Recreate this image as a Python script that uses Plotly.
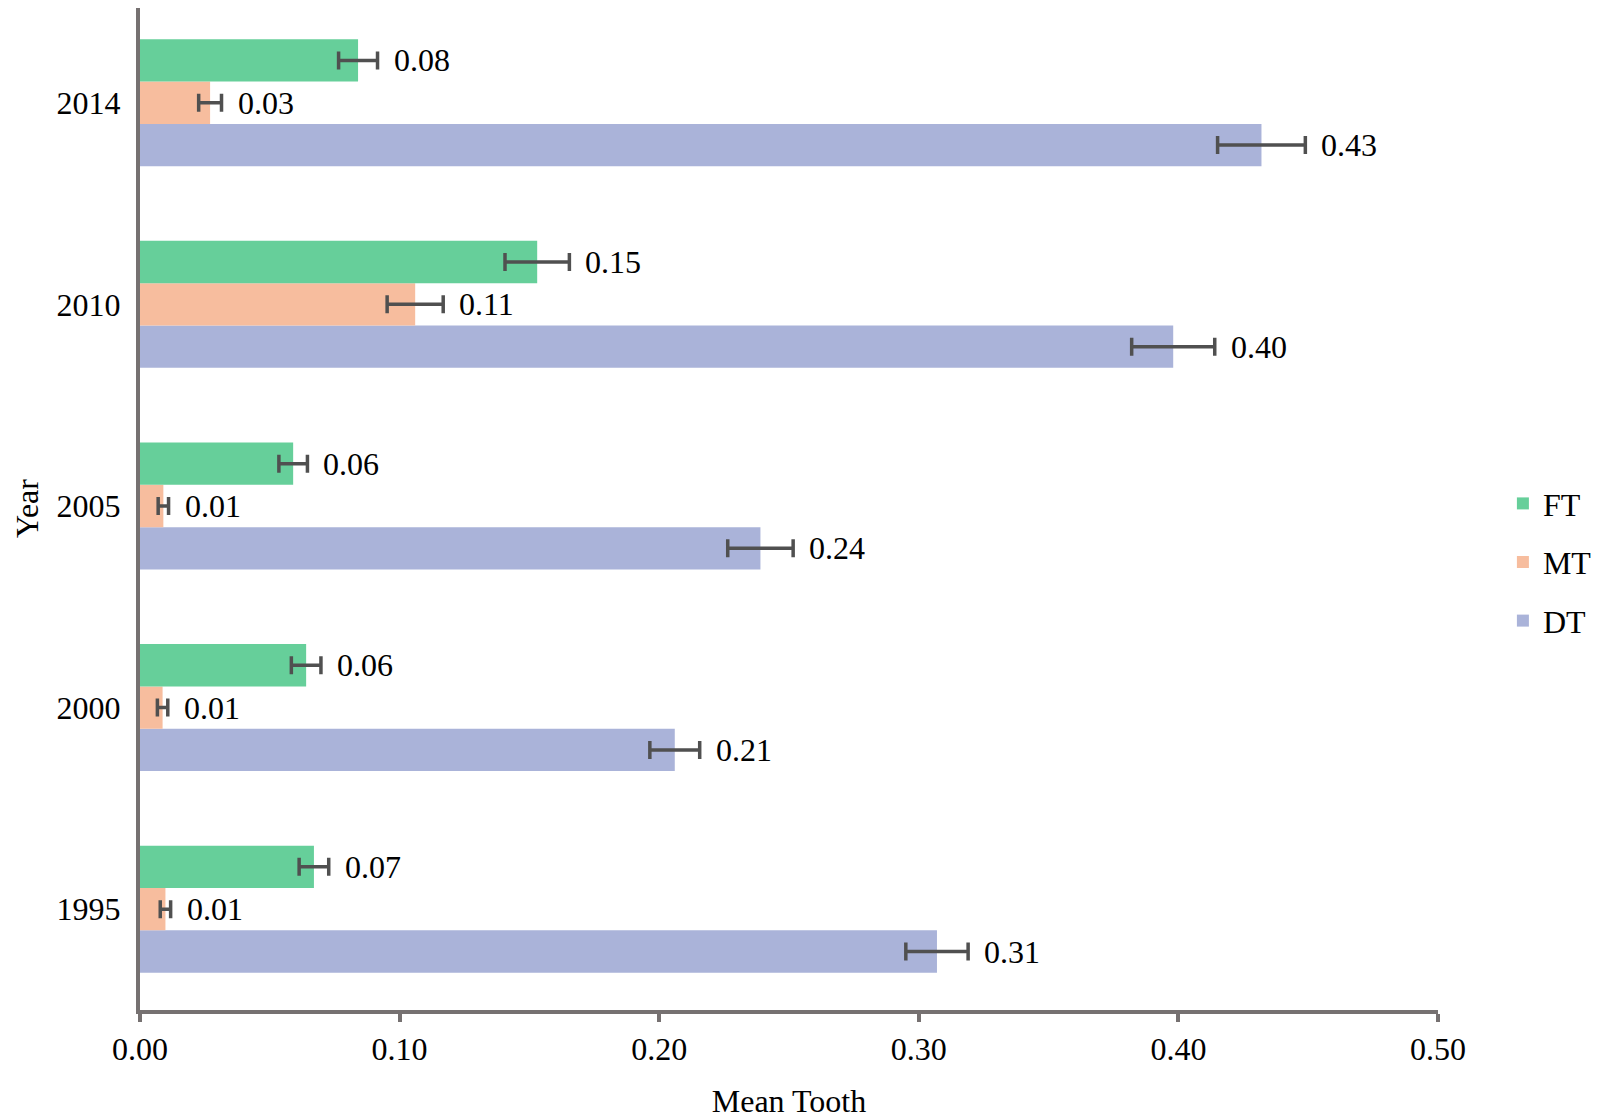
import plotly.graph_objects as go

years = ["1995", "2000", "2005", "2010", "2014"]
series = ["DT", "MT", "FT"]
ft = [0.067, 0.064, 0.059, 0.153, 0.084]
ft_err = [0.0057, 0.0057, 0.0055, 0.0124, 0.0075]
mt = [0.0098, 0.0087, 0.009, 0.106, 0.027]
mt_err = [0.002, 0.002, 0.002, 0.0108, 0.0044]
dt = [0.307, 0.206, 0.239, 0.398, 0.432]
dt_err = [0.012, 0.0096, 0.0126, 0.016, 0.0169]
x_ticks = [0.0, 0.1, 0.2, 0.3, 0.4, 0.5]
x_ticklabels = ["0.00", "0.10", "0.20", "0.30", "0.40", "0.50"]

values = {"FT": ft, "MT": mt, "DT": dt}
errors = {"FT": ft_err, "MT": mt_err, "DT": dt_err}
colors = {"FT": "#66CF9A", "MT": "#F7BD9E", "DT": "#AAB3D9"}
legend_rank = {"FT": 1, "MT": 2, "DT": 3}

FONT = "Liberation Serif, Times New Roman, serif"
FS = 32
AXIS_COLOR = "#767171"

W, H = 1600, 1120
m_l, m_r, m_t, m_b = 132, 170, 0, 118
y_range = [-0.5, 4.47]
bargap = 0.37
band_px = (H - m_t - m_b) / (y_range[1] - y_range[0])
bar_px = band_px * (1 - bargap) / 3
shifts = {"DT": -bar_px, "MT": 0, "FT": bar_px}

fig = go.Figure()
for s in series:
    fig.add_trace(go.Bar(
        name=s, y=years, x=values[s], orientation="h",
        marker=dict(color=colors[s], line=dict(width=0)),
        error_x=dict(type="data", array=errors[s], visible=True,
                     color="#505050", thickness=3.5, width=9),
        legendrank=legend_rank[s], legendgroup=s,
    ))

annotations = []
for s in series:
    for i, (v, e) in enumerate(zip(values[s], errors[s])):
        annotations.append(dict(
            x=v + e, y=i, xref="x", yref="y", text=f"{v:.2f}",
            showarrow=False, xanchor="left", yanchor="middle",
            xshift=14, yshift=shifts[s],
            font=dict(family=FONT, size=FS, color="black"),
        ))

# y-axis title placed near the left edge of the figure
annotations.append(dict(
    text="Year", x=0, y=0.5, xref="paper", yref="paper",
    xanchor="center", yanchor="middle", textangle=-90,
    xshift=-(m_l - 19), showarrow=False,
    font=dict(family=FONT, size=FS, color="black"),
))

fig.update_layout(
    width=W, height=H,
    margin=dict(l=m_l, r=m_r, t=m_t, b=m_b, autoexpand=False),
    paper_bgcolor="white", plot_bgcolor="white",
    barmode="group", bargap=bargap, bargroupgap=0,
    font=dict(family=FONT, size=FS, color="black"),
    annotations=annotations,
    legend=dict(
        x=1.050, xanchor="left", y=0.447, yanchor="middle",
        traceorder="grouped", tracegroupgap=14,
        font=dict(family=FONT, size=FS, color="black"),
        bgcolor="rgba(0,0,0,0)", itemwidth=30,
    ),
    xaxis=dict(
        range=[0, 0.5], tickvals=x_ticks, ticktext=x_ticklabels,
        showgrid=False, zeroline=False, automargin=False,
        showline=True, linecolor=AXIS_COLOR, linewidth=4,
        ticks="outside", ticklen=8, tickwidth=4, tickcolor=AXIS_COLOR,
        ticklabelstandoff=0,
        title=dict(text="Mean Tooth", font=dict(family=FONT, size=FS), standoff=24),
        tickfont=dict(family=FONT, size=FS, color="black"),
    ),
    yaxis=dict(
        type="category",
        categoryorder="array", categoryarray=years,
        range=y_range, automargin=False,
        showgrid=False, zeroline=False,
        showline=True, linecolor=AXIS_COLOR, linewidth=4,
        ticks="", ticklabelstandoff=9,
        tickfont=dict(family=FONT, size=FS, color="black"),
    ),
)

fig.write_html("out.html")
